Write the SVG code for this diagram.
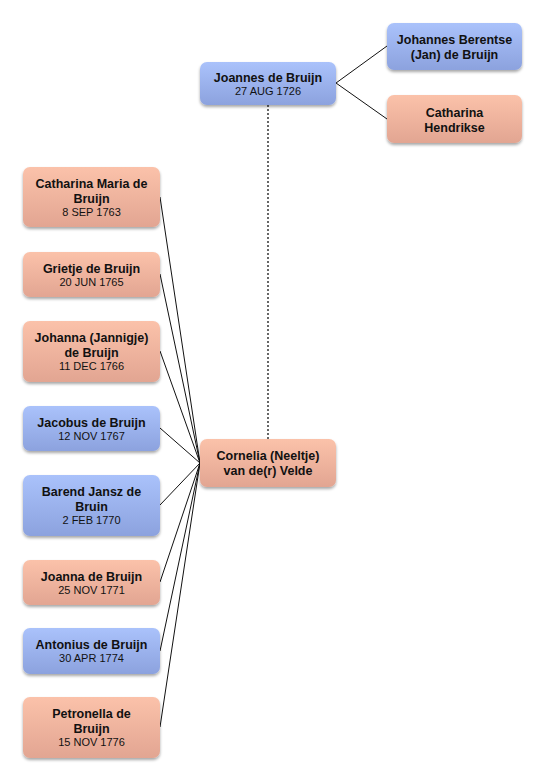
<svg xmlns="http://www.w3.org/2000/svg" width="546" height="783" viewBox="0 0 546 783">
<defs>
<linearGradient id="gb" x1="0" y1="0" x2="0" y2="1"><stop offset="0" stop-color="#aac2fb"/><stop offset="1" stop-color="#8ca2de"/></linearGradient>
<linearGradient id="gp" x1="0" y1="0" x2="0" y2="1"><stop offset="0" stop-color="#fbc2aa"/><stop offset="1" stop-color="#e2a592"/></linearGradient>
<filter id="sh" x="-10%" y="-10%" width="125%" height="135%"><feGaussianBlur in="SourceAlpha" stdDeviation="1.5"/><feOffset dx="0" dy="1.5"/><feComponentTransfer><feFuncA type="linear" slope="0.35"/></feComponentTransfer><feMerge><feMergeNode/><feMergeNode in="SourceGraphic"/></feMerge></filter>
</defs>
<style>
.b{fill:url(#gb);filter:url(#sh)}
.p{fill:url(#gp);filter:url(#sh)}
.n{font-family:"Liberation Sans",Arial,sans-serif;font-size:12.5px;font-weight:bold;fill:#111;text-anchor:middle}
.d{font-family:"Liberation Sans",Arial,sans-serif;font-size:11px;fill:#111;text-anchor:middle}
.c{stroke:#111;stroke-width:1;fill:none}
.dot{stroke:#666;stroke-width:2;stroke-dasharray:2 2;fill:none}
</style>
<rect width="546" height="783" fill="#fff"/>
<g id="connectors">
<line class="dot" x1="268" y1="105" x2="268" y2="439"/>
<line class="c" x1="336" y1="83" x2="387" y2="46"/>
<line class="c" x1="336" y1="83" x2="387" y2="119"/>
<line class="c" x1="160" y1="197" x2="200" y2="463"/>
<line class="c" x1="160" y1="274" x2="200" y2="463"/>
<line class="c" x1="160" y1="351" x2="200" y2="463"/>
<line class="c" x1="160" y1="428" x2="200" y2="463"/>
<line class="c" x1="160" y1="505" x2="200" y2="463"/>
<line class="c" x1="160" y1="582" x2="200" y2="463"/>
<line class="c" x1="160" y1="651" x2="200" y2="463"/>
<line class="c" x1="160" y1="727" x2="200" y2="463"/>
</g>
<g id="joannes"><rect class="b" x="200" y="62" width="136" height="43" rx="7"/><text class="n" x="268" y="82">Joannes de Bruijn</text><text class="d" x="268" y="95">27 AUG 1726</text></g>
<g id="johannes"><rect class="b" x="387" y="23" width="135" height="47" rx="7"/><text class="n" x="454.5" y="44">Johannes Berentse</text><text class="n" x="454.5" y="59">(Jan) de Bruijn</text></g>
<g id="catharinaH"><rect class="p" x="387" y="95" width="135" height="48" rx="7"/><text class="n" x="454.5" y="117">Catharina</text><text class="n" x="454.5" y="132">Hendrikse</text></g>
<g id="cornelia"><rect class="p" x="200" y="439" width="136" height="48" rx="7"/><text class="n" x="268" y="460">Cornelia (Neeltje)</text><text class="n" x="268" y="475">van de(r) Velde</text></g>
<g id="catharinaM"><rect class="p" x="23" y="167" width="137" height="60" rx="7"/><text class="n" x="91.5" y="188">Catharina Maria de</text><text class="n" x="91.5" y="203">Bruijn</text><text class="d" x="91.5" y="216">8 SEP 1763</text></g>
<g id="grietje"><rect class="p" x="23" y="252" width="137" height="45" rx="7"/><text class="n" x="91.5" y="273">Grietje de Bruijn</text><text class="d" x="91.5" y="286">20 JUN 1765</text></g>
<g id="johanna"><rect class="p" x="23" y="321" width="137" height="61" rx="7"/><text class="n" x="91.5" y="342">Johanna (Jannigje)</text><text class="n" x="91.5" y="357">de Bruijn</text><text class="d" x="91.5" y="370">11 DEC 1766</text></g>
<g id="jacobus"><rect class="b" x="23" y="406" width="137" height="45" rx="7"/><text class="n" x="91.5" y="427">Jacobus de Bruijn</text><text class="d" x="91.5" y="440">12 NOV 1767</text></g>
<g id="barend"><rect class="b" x="23" y="475" width="137" height="61" rx="7"/><text class="n" x="91.5" y="496">Barend Jansz de</text><text class="n" x="91.5" y="511">Bruin</text><text class="d" x="91.5" y="524">2 FEB 1770</text></g>
<g id="joanna"><rect class="p" x="23" y="560" width="137" height="45" rx="7"/><text class="n" x="91.5" y="581">Joanna de Bruijn</text><text class="d" x="91.5" y="594">25 NOV 1771</text></g>
<g id="antonius"><rect class="b" x="23" y="628" width="137" height="46" rx="7"/><text class="n" x="91.5" y="649">Antonius de Bruijn</text><text class="d" x="91.5" y="662">30 APR 1774</text></g>
<g id="petronella"><rect class="p" x="23" y="697" width="137" height="61" rx="7"/><text class="n" x="91.5" y="718">Petronella de</text><text class="n" x="91.5" y="733">Bruijn</text><text class="d" x="91.5" y="746">15 NOV 1776</text></g>
</svg>
